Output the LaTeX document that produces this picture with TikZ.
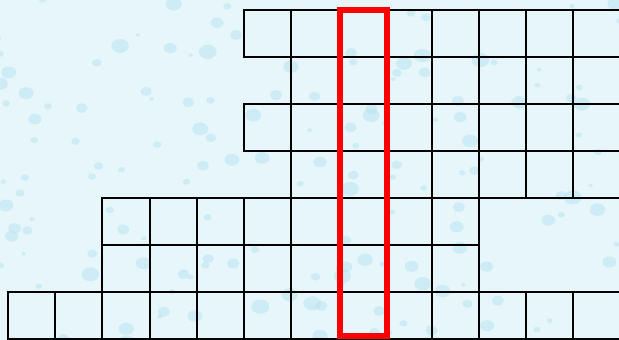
\documentclass[tikz,border=0pt]{standalone}
\usepackage{tikz}
\definecolor{waterbg}{RGB}{230,246,251}
\definecolor{dropblue}{RGB}{185,228,241}
\begin{document}
\begin{tikzpicture}[x=47.08pt, y=47pt,
    cellbox/.style={draw=black, line width=2pt},
    redcol/.style={draw=red, line width=6pt},
    waterdrop/.style={fill=dropblue, opacity=0.55}]
  \useasboundingbox (-8.3pt,-1.3pt) rectangle (610.7pt,338.7pt);
  \fill[waterbg] (-8.3pt,-1.3pt) rectangle (610.7pt,338.7pt);
  \clip (-8.3pt,-1.3pt) rectangle (610.7pt,338.7pt);
  % water drops in the background
  \pgfmathsetseed{11}
  \foreach \i in {1,...,160} {
    \pgfmathsetmacro\dx{rnd*630-12}
    \pgfmathsetmacro\dy{rnd*350-6}
    \pgfmathsetmacro\dr{2+rnd*7}
    \fill[waterdrop] (\dx pt,\dy pt) ellipse ({\dr pt} and {0.8*\dr pt});
  }
  % rows from the bottom: row/first column/last column
  \foreach \r/\a/\b in {0/0/12, 1/2/9, 2/2/9, 3/6/12, 4/5/12, 5/6/12, 6/5/12}
    \foreach \c in {\a,...,\b}
      \draw[cellbox] (\c,\r) rectangle ++(1,1);
  % marked column
  \draw[redcol] ([xshift=2.5pt,yshift=2.5pt]7,0) rectangle ([xshift=2.5pt]8,7);
\end{tikzpicture}
\end{document}
